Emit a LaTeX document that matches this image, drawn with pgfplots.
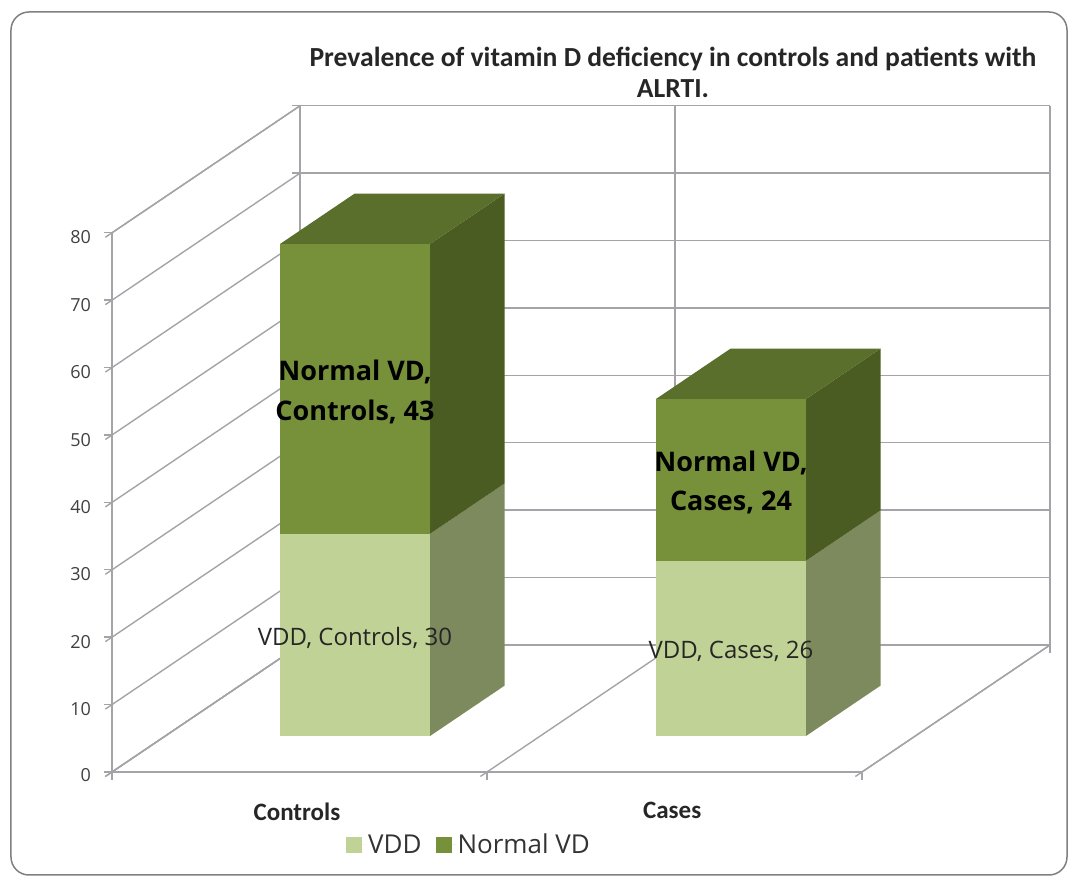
\documentclass[border=0pt]{standalone}
\usepackage{fontspec}
\setmainfont{Open Sans}
\newfontfamily\carl{Carlito}
\usepackage{pgfplots}
\pgfplotsset{compat=1.18}
\definecolor{lightf}{HTML}{C0D296}
\definecolor{lights}{HTML}{7C8A5E}
\definecolor{darkf}{HTML}{77913A}
\definecolor{darks}{HTML}{4A5C22}
\definecolor{darkt}{HTML}{5A6F2C}
\definecolor{gridc}{HTML}{A4A4A8}
\begin{document}
\begin{tikzpicture}
\begin{axis}[
  x={(375pt,0pt)}, y={(188pt,127pt)}, z={(0pt,6.74pt)},
  xmin=-0.5, xmax=1.5, ymin=0, ymax=1, zmin=0, zmax=80,
  clip=false,
  tick pos=left,
  tick align=outside,
  xtick={-0.5,0.5,1.5}, xticklabels={},
  extra x ticks={0,1}, extra x tick labels={Controls,Cases},
  extra x tick style={grid=none, major tick length=0pt, tick label style={font=\carl\bfseries\fontsize{25}{28}\selectfont, text=black!85, xshift=4pt, yshift=-27pt}},
  ytick=\empty,
  ztick={0,10,...,80},
  grid=major,
  grid style={gridc, line width=1.4pt},
  axis line style={gridc, line width=1.4pt},
  tick style={gridc, line width=1.4pt},
  major tick length=8pt,
  z tick label style={font=\fontsize{18}{21}\selectfont, text=black!75, xshift=-11pt, yshift=4pt},
  /pgf/number format/assume math mode=true,
  title={Prevalence of vitamin D deficiency in controls and patients with\\ALRTI.},
  title style={align=center, text=black!85, font=\carl\bfseries\fontsize{27.6}{31}\selectfont, xshift=92pt, yshift=-1pt},
  legend style={draw=none, fill=none, legend columns=-1, font=\fontsize{26}{30}\selectfont, text=black!80, at={(0.5,0)}, anchor=north, xshift=-112pt, yshift=-58pt, /tikz/every even column/.append style={column sep=12pt}},
  legend image code/.code={\fill[#1] (0pt,-8pt) rectangle (16pt,8pt);\path (0pt,0pt) -- (20pt,0pt);},
]
% frame
\path[x=1pt,y=1pt,shift={(axis cs:-0.5,0,0)}] (-112,-105) rectangle (961,772);
\draw[x=1pt,y=1pt,shift={(axis cs:-0.5,0,0)},draw=black!50,line width=1.5pt,rounded corners=18pt] (-101,-103) rectangle (955,760);
% Controls, VDD = 30
\addplot3[fill=lights,draw=none,forget plot] coordinates {(0.206,0.2835,0) (0.206,0.68,0) (0.206,0.68,30) (0.206,0.2835,30)};
\addplot3[fill=lightf,draw=none,forget plot] coordinates {(-0.194,0.2835,0) (0.206,0.2835,0) (0.206,0.2835,30) (-0.194,0.2835,30)};
% Controls, Normal VD = 43
\addplot3[fill=darks,draw=none,forget plot] coordinates {(0.206,0.2835,30) (0.206,0.68,30) (0.206,0.68,73) (0.206,0.2835,73)};
\addplot3[fill=darkf,draw=none,forget plot] coordinates {(-0.194,0.2835,30) (0.206,0.2835,30) (0.206,0.2835,73) (-0.194,0.2835,73)};
\addplot3[fill=darkt,draw=none,forget plot] coordinates {(-0.194,0.2835,73) (0.206,0.2835,73) (0.206,0.68,73) (-0.194,0.68,73)};
% Cases, VDD = 26
\addplot3[fill=lights,draw=none,forget plot] coordinates {(1.2085,0.2835,0) (1.2085,0.68,0) (1.2085,0.68,26) (1.2085,0.2835,26)};
\addplot3[fill=lightf,draw=none,forget plot] coordinates {(0.8085,0.2835,0) (1.2085,0.2835,0) (1.2085,0.2835,26) (0.8085,0.2835,26)};
% Cases, Normal VD = 24
\addplot3[fill=darks,draw=none,forget plot] coordinates {(1.2085,0.2835,26) (1.2085,0.68,26) (1.2085,0.68,50) (1.2085,0.2835,50)};
\addplot3[fill=darkf,draw=none,forget plot] coordinates {(0.8085,0.2835,26) (1.2085,0.2835,26) (1.2085,0.2835,50) (0.8085,0.2835,50)};
\addplot3[fill=darkt,draw=none,forget plot] coordinates {(0.8085,0.2835,50) (1.2085,0.2835,50) (1.2085,0.68,50) (0.8085,0.68,50)};
\addlegendimage{fill=lightf, draw=none}
\addlegendentry{VDD}
\addlegendimage{fill=darkf, draw=none}
\addlegendentry{Normal VD}
% data labels
\node[font=\fontsize{24}{28}\selectfont,text=black!85] at (axis cs:0.006,0.2835,14.6) {VDD, Controls, 30};
\node[font=\fontsize{24}{28}\selectfont,text=black!85] at (axis cs:1.0085,0.2835,12.6) {VDD, Cases, 26};
\node[font=\bfseries\fontsize{27}{40}\selectfont,text=black,align=center] at (axis cs:0.006,0.2835,51) {Normal VD,\\Controls, 43};
\node[font=\bfseries\fontsize{27}{39}\selectfont,text=black,align=center] at (axis cs:1.0085,0.2835,37.6) {Normal VD,\\Cases, 24};
\end{axis}
\end{tikzpicture}
\end{document}
